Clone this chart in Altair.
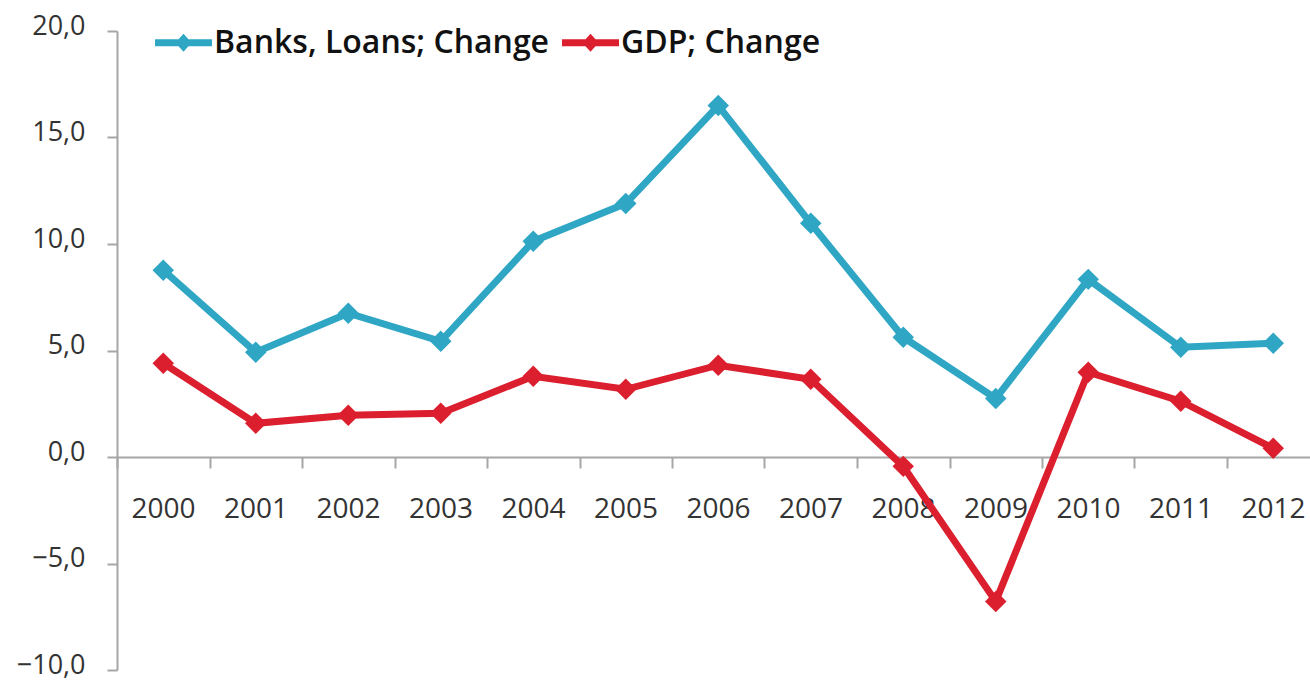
import altair as alt
import pandas as pd

years = list(range(2000, 2013))
banks_loans = [8.77, 4.92, 6.75, 5.43, 10.13, 11.9, 16.5, 10.97, 5.62, 2.75, 8.34, 5.15, 5.34]
gdp = [4.40, 1.58, 1.96, 2.05, 3.79, 3.18, 4.31, 3.65, -0.44, -6.78, 3.98, 2.62, 0.41]
series_names = ["Banks, Loans; Change", "GDP; Change"]
series_colors = ["#2fa6c4", "#dc1f2e"]

rows = []
for i, y in enumerate(years):
    rows.append({"pos": i + 0.5, "year": y, "series": series_names[0], "value": banks_loans[i]})
    rows.append({"pos": i + 0.5, "year": y, "series": series_names[1], "value": gdp[i]})
df = pd.DataFrame(rows)

W = 1193
H = 639
X_MAX = W / 92.5
Y_MIN, Y_MAX = -10, 20
zero_offset = -H * (0 - Y_MIN) / (Y_MAX - Y_MIN)

FONT = "Open Sans"
GREY = "#a6a6a6"

x_enc = alt.X(
    "pos:Q",
    scale=alt.Scale(domain=[0, X_MAX], nice=False, zero=False),
    axis=alt.Axis(
        values=list(range(0, 13)),
        labelExpr="datum.value + 2000",
        labelOffset=46,
        labelFont=FONT, labelFontSize=28, labelColor="#333333",
        labelBaseline="top", labelPadding=27,
        tickSize=11, tickColor=GREY, tickWidth=2,
        domainColor=GREY, domainWidth=2,
        grid=False, title=None, offset=zero_offset,
        labelFlush=False, labelOverlap=False,
    ),
)
y_enc = alt.Y(
    "value:Q",
    scale=alt.Scale(domain=[Y_MIN, Y_MAX], nice=False),
    axis=alt.Axis(
        values=[-10, -5, 0, 5, 10, 15, 20],
        labelExpr="replace(format(datum.value, '.1f'), '.', ',')",
        labelFont=FONT, labelFontSize=27, labelColor="#333333",
        labelPadding=22, labelOffset=-5,
        tickSize=10, tickColor=GREY, tickWidth=2,
        domainColor=GREY, domainWidth=2,
        grid=False, title=None,
    ),
)

sym_path = ("M-1,-0.12L-0.175,-0.12L0,-0.32L0.175,-0.12L1,-0.12L1,0.12"
            "L0.175,0.12L0,0.32L-0.175,0.12L-1,0.12Z")

color_scale = alt.Scale(domain=series_names, range=series_colors)

legend = alt.Legend(
    title=None, orient="none", direction="horizontal",
    legendX=38, legendY=-17,
    symbolType=sym_path, symbolSize=57 * 57, symbolStrokeWidth=0,
    symbolOpacity=1,
    labelFont=FONT, labelFontSize=32, labelFontWeight=600,
    labelColor="#111111", labelOffset=2, columnPadding=12,
    labelLimit=600, padding=0,
)

lines = alt.Chart(df).mark_line(strokeWidth=7).encode(
    x=x_enc, y=y_enc,
    color=alt.Color("series:N", scale=color_scale, legend=legend),
    order=alt.Order("pos:Q"),
)

points = alt.Chart(df).mark_point(shape="diamond", filled=True, size=460, opacity=1).encode(
    x=x_enc, y=y_enc,
    color=alt.Color("series:N", scale=color_scale, legend=legend),
)

chart = alt.layer(lines, points).properties(
    width=W, height=H,
    background="white",
    autosize=alt.AutoSizeParams(type="none"),
    padding={"left": 117, "top": 31, "right": 0, "bottom": 10},
).configure_view(
    strokeWidth=0, stroke=None
).configure_axis(grid=False)

chart.save("out.html", embed_options={"renderer": "svg", "actions": False})
